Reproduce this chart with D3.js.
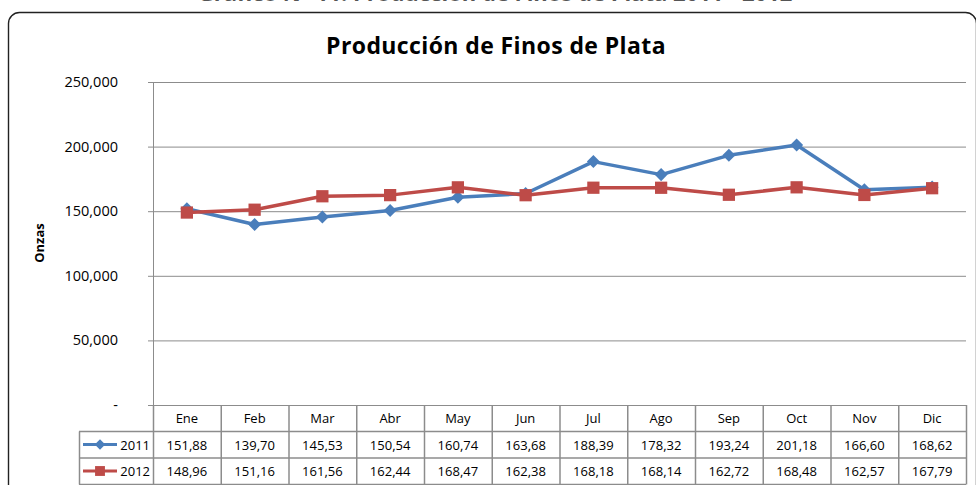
<!DOCTYPE html>
<html lang="es">
  <head>
    <meta charset="UTF-8" />
    <title>Producción de Finos de Plata</title>
    <script src="https://d3js.org/d3.v7.min.js"></script>
    <style>
      body { margin: 0; background: #fff; }
      text { font-family: "Open Sans", "Noto Sans", sans-serif; fill: #000; }
    </style>
  </head>
  <body>
    <svg width="976" height="485"></svg>
    <script>
      // data
      const months = ["Ene", "Feb", "Mar", "Abr", "May", "Jun", "Jul", "Ago", "Sep", "Oct", "Nov", "Dic"];
      const seriesNames = ["2011", "2012"];
      const values2011 = [151880, 139700, 145530, 150540, 160740, 163680, 188390, 178320, 193240, 201180, 166600, 168620];
      const values2012 = [148960, 151160, 161560, 162440, 168470, 162380, 168180, 168140, 162720, 168480, 162570, 167790];
      const yTicks = [0, 50000, 100000, 150000, 200000, 250000];

      const svg = d3.select("svg");
      const plotL = 153, plotR = 966, plotT = 82, plotB = 405;
      const rowH = 26.5;

      const x = d3.scaleBand().domain(months).range([plotL, plotR]).padding(0);
      const y = d3.scaleLinear().domain([0, 250000]).range([plotB, plotT]);

      // caption of the page, cut by the top edge in the original
      svg.append("text")
        .attr("x", 495).attr("y", 1)
        .attr("text-anchor", "middle")
        .style("font-size", "22px").style("font-weight", "bold").style("fill", "#555")
        .text("Gráfico N° 11: Producción de Finos de Plata 2011 - 2012");

      // chart frame
      svg.append("rect")
        .attr("x", 8.5).attr("y", 12.5)
        .attr("width", 968).attr("height", 490)
        .attr("rx", 11)
        .attr("fill", "#fff").attr("stroke", "#222").attr("stroke-width", 1.4);

      svg.append("text")
        .attr("x", 496).attr("y", 54)
        .attr("text-anchor", "middle")
        .style("font-size", "23px").style("font-weight", "bold").style("letter-spacing", "0.4px")
        .text("Producción de Finos de Plata");

      // gridlines
      svg.append("g")
        .selectAll("line")
        .data(yTicks)
        .join("line")
        .attr("x1", plotL - 5).attr("x2", plotR)
        .attr("y1", d => y(d) + 0.5).attr("y2", d => y(d) + 0.5)
        .attr("stroke", "#8c8c8c").attr("stroke-width", 1);

      svg.append("line")
        .attr("x1", plotL + 0.5).attr("x2", plotL + 0.5)
        .attr("y1", plotT).attr("y2", plotB)
        .attr("stroke", "#8c8c8c");

      svg.append("g")
        .selectAll("text")
        .data(yTicks)
        .join("text")
        .attr("x", 118).attr("y", d => y(d) + 5)
        .attr("text-anchor", "end")
        .style("font-size", "14.5px")
        .text(d => d === 0 ? "-" : d3.format(",")(d));

      svg.append("text")
        .attr("transform", "translate(44,243) rotate(-90)")
        .attr("text-anchor", "middle")
        .style("font-size", "13px").style("font-weight", "bold")
        .text("Onzas");

      // data table under the axis
      const tbl = svg.append("g");
      const lineCol = "#8c8c8c";
      const fmt = v => (v / 1000).toFixed(2).replace(".", ",");

      // horizontal rules
      [1, 2, 3].forEach(k => {
        tbl.append("line")
          .attr("x1", 79).attr("x2", plotR)
          .attr("y1", plotB + k * rowH).attr("y2", plotB + k * rowH)
          .attr("stroke", lineCol).attr("stroke-width", 1.5);
      });

      // vertical rules
      tbl.selectAll("line.v")
        .data(months.map(m => x(m)).concat([plotR]))
        .join("line")
        .attr("class", "v")
        .attr("x1", d => d + 0.5).attr("x2", d => d + 0.5)
        .attr("y1", plotB).attr("y2", plotB + 3 * rowH)
        .attr("stroke", lineCol).attr("stroke-width", 1.5);
      tbl.append("line").attr("x1", 79.5).attr("x2", 79.5).attr("y1", plotB + rowH).attr("y2", plotB + 3 * rowH).attr("stroke", lineCol).attr("stroke-width", 1.5);

      tbl.selectAll("text.h")
        .data(months)
        .join("text")
        .attr("class", "h")
        .attr("x", d => x(d) + x.bandwidth() / 2)
        .attr("y", plotB + 18)
        .attr("text-anchor", "middle")
        .style("font-size", "13px")
        .text(d => d);

      // diamond = square turned 45 degrees
      const series = [
        { name: seriesNames[0], values: values2011, color: "#4a7ebb", shape: d3.symbolSquare, size: 85, rot: 45 },
        { name: seriesNames[1], values: values2012, color: "#be4b48", shape: d3.symbolSquare, size: 150, rot: 0 }
      ];

      series.forEach((s, i) => {
        const ry = plotB + (i + 1) * rowH;
        tbl.selectAll("text.r" + i)
          .data(s.values)
          .join("text")
          .attr("class", "r" + i)
          .attr("x", (d, j) => x(months[j]) + x.bandwidth() / 2)
          .attr("y", ry + 18)
          .attr("text-anchor", "middle")
          .style("font-size", "13px")
          .text(fmt);

        // legend key
        tbl.append("line")
          .attr("x1", 83).attr("x2", 117)
          .attr("y1", ry + 13).attr("y2", ry + 13)
          .attr("stroke", s.color).attr("stroke-width", 3);
        tbl.append("path")
          .attr("d", d3.symbol().type(s.shape).size(s.size * 0.65)())
          .attr("transform", `translate(100,${ry + 13}) rotate(${s.rot})`)
          .attr("fill", s.color);
        tbl.append("text")
          .attr("x", 150).attr("y", ry + 18)
          .attr("text-anchor", "end")
          .style("font-size", "13px")
          .text(s.name);
      });

      // lines and markers
      const line = d3.line()
        .x((d, j) => x(months[j]) + x.bandwidth() / 2)
        .y(d => y(d));

      series.forEach(s => {
        svg.append("path")
          .datum(s.values)
          .attr("d", line)
          .attr("fill", "none")
          .attr("stroke", s.color)
          .attr("stroke-width", 3.5)
          .attr("stroke-linejoin", "round");
        svg.append("g")
          .selectAll("path")
          .data(s.values)
          .join("path")
          .attr("d", d3.symbol().type(s.shape).size(s.size)())
          .attr("transform", (d, j) => `translate(${x(months[j]) + x.bandwidth() / 2},${y(d)}) rotate(${s.rot})`)
          .attr("fill", s.color);
      });
    </script>
  </body>
</html>
